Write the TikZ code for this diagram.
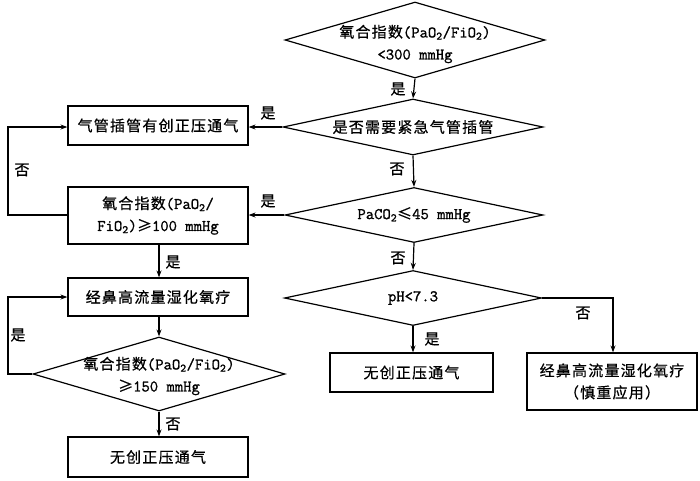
\documentclass[tikz,border=0pt]{standalone}
\usepackage{fontspec}
\setmainfont{Noto Sans CJK SC}[LetterSpace=8,FakeBold=0.6]
\newfontfamily\lat{Latin Modern Mono}[FakeBold=1.2,Scale=1.08]
\usetikzlibrary{shapes.geometric,arrows.meta}
\newcommand{\lowtwo}{\textsubscript{2}}
\begin{document}
\begin{tikzpicture}[x=1pt,y=-1pt,line width=1.2pt,
  font=\fontsize{15}{22}\selectfont,
  boxnode/.style={draw,rectangle,inner sep=0pt,align=center},
  dianode/.style={draw,diamond,inner sep=0pt},
  txt/.style={align=center,inner sep=0pt},
  lbl/.style={inner sep=0pt},
  arr/.style={-{Stealth[length=7pt,width=5pt]}}]
\fill[white] (0,0) rectangle (700,480);
\useasboundingbox (0,0) rectangle (700,480);
% right column
\node[dianode,minimum width=260pt,minimum height=76pt] (d1) at (415,40) {};
\node[txt] (t1) at (415,44) {氧合指数{\lat(PaO\lowtwo/FiO\lowtwo)}\\{\lat<300 mmHg}};
\node[dianode,minimum width=260pt,minimum height=56pt] (d2) at (413,127) {};
\node[txt] (t2) at (413,127) {是否需要紧急气管插管};
\node[dianode,minimum width=258pt,minimum height=55pt] (d3) at (414,215) {};
\node[txt] (t3) at (414,215) {{\lat PaCO\lowtwo}≤{\lat 45 mmHg}};
\node[dianode,minimum width=257pt,minimum height=55pt] (d4) at (413,298) {};
\node[txt] (t4) at (413,298) {{\lat pH<7.3}};
\node[boxnode,minimum width=163pt,minimum height=39pt] (b5) at (411.5,372.5) {无创正压通气};
\node[boxnode,minimum width=170pt,minimum height=57pt] (b6) at (612,381.5) {经鼻高流量湿化氧疗\\（慎重应用）};
% left column
\node[boxnode,minimum width=180pt,minimum height=39pt] (b1) at (158,125.5) {气管插管有创正压通气};
\node[boxnode,minimum width=180pt,minimum height=57pt] (b2) at (158,215.5) {氧合指数{\lat(PaO\lowtwo/}\\{\lat FiO\lowtwo)}≥{\lat 100 mmHg}};
\node[boxnode,minimum width=180pt,minimum height=38pt] (b3) at (158,297) {经鼻高流量湿化氧疗};
\node[dianode,minimum width=252pt,minimum height=74pt] (d5) at (159,374) {};
\node[txt] (t5) at (159,376) {氧合指数{\lat(PaO\lowtwo/FiO\lowtwo)}\\≥{\lat 150 mmHg}};
\node[boxnode,minimum width=180pt,minimum height=40pt] (b4) at (158,457) {无创正压通气};
% connectors
\draw[arr] (d1.south) -- (d2.north);
\node[lbl] (l1) at (398,89) {是};
\draw[arr] (d2.west) -- (d2.west -| b1.east);
\node[lbl] (l2) at (268,113) {是};
\draw[arr] (d2.south) -- (d3.north);
\node[lbl] (l3) at (397,169) {否};
\draw[arr] (d3.west) -- (d3.west -| b2.east);
\node[lbl] (l4) at (268,201) {是};
\draw[arr] (d3.south) -- (d4.north);
\node[lbl] (l5) at (398,258) {否};
\draw[arr] (d4.south) -- (d4.south |- b5.north);
\node[lbl] (l6) at (432,339) {是};
\coordinate (c1) at (613,298);
\draw[arr] (d4.east) -- (c1) -- (c1 |- b6.north);
\node[lbl] (l7) at (583,313) {否};
\coordinate (c2) at (8,215);
\coordinate (c3) at (8,127);
\draw[arr] (b2.west |- c2) -- (c2) -- (c3) -- (c3 -| b1.west);
\node[lbl] (l8) at (22,170) {否};
\draw[arr] (b2.south -| d5.north) -- (b3.north -| d5.north);
\node[lbl] (l9) at (173,262) {是};
\draw[arr] (b3.south -| d5.north) -- (d5.north);
\coordinate (c4) at (8,374);
\coordinate (c5) at (8,297);
\draw[arr] (d5.west) -- (c4) -- (c5) -- (b3.west);
\node[lbl] (l10) at (18,335) {是};
\draw[arr] (d5.south) -- (d5.south |- b4.north);
\node[lbl] (l11) at (173,424) {否};
\end{tikzpicture}
\end{document}
